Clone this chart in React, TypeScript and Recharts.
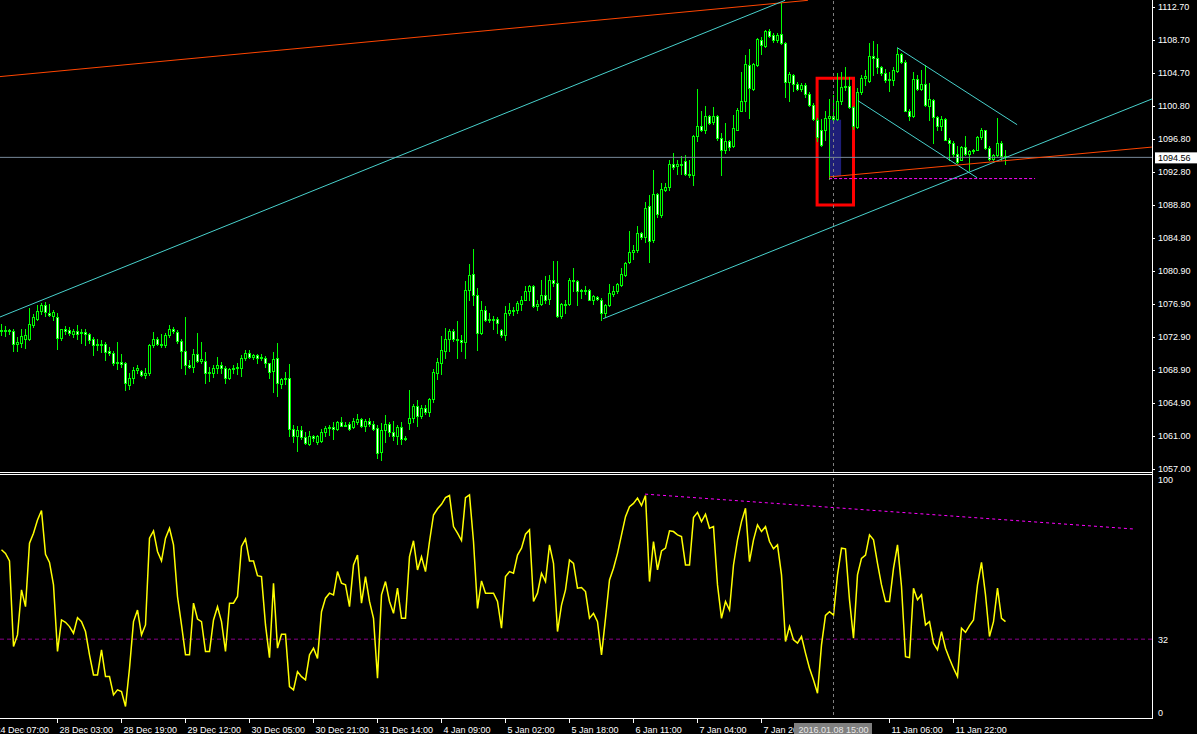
import React from 'react';
import {
    ComposedChart,
    Bar,
    Line,
    XAxis,
    YAxis,
    ReferenceLine,
    ReferenceArea,
} from 'recharts';

// hourly gold bars, left to right
const OPENS = [
    1073.7, 1073.6, 1073.7, 1073.6, 1072.1, 1072.2, 1072.6, 1072.6, 1074.4, 1075.1,
    1076.0, 1076.8, 1075.8, 1075.4, 1075.3, 1072.8, 1073.8, 1073.7, 1073.3, 1073.6,
    1073.4, 1073.5, 1073.2, 1072.7, 1072.0, 1072.1, 1072.1, 1071.2, 1071.0, 1069.7,
    1069.9, 1069.7, 1067.1, 1067.9, 1068.9, 1068.8, 1068.3, 1068.5, 1071.9, 1072.7,
    1072.1, 1071.9, 1073.1, 1073.8, 1073.5, 1072.4, 1071.2, 1069.5, 1069.3, 1070.8,
    1070.0, 1070.0, 1068.5, 1068.5, 1069.1, 1069.5, 1069.2, 1068.0, 1069.0, 1069.1,
    1069.1, 1070.4, 1071.0, 1070.5, 1070.7, 1070.4, 1070.4, 1069.7, 1068.8, 1070.3,
    1067.2, 1067.8, 1067.9, 1061.8, 1060.9, 1061.7, 1060.8, 1060.0, 1060.9, 1060.2,
    1060.3, 1061.4, 1061.9, 1062.0, 1061.8, 1062.6, 1062.3, 1062.4, 1062.0, 1062.6,
    1063.0, 1062.1, 1062.8, 1062.4, 1061.9, 1059.0, 1061.7, 1062.4, 1061.4, 1060.9,
    1062.0, 1060.7, 1062.5, 1063.1, 1064.6, 1063.4, 1064.3, 1063.8, 1065.4, 1068.6,
    1069.8, 1071.2, 1072.6, 1073.6, 1072.7, 1072.5, 1072.3, 1078.6, 1080.5, 1078.0,
    1073.4, 1076.2, 1075.1, 1074.9, 1075.1, 1073.7, 1073.1, 1075.8, 1076.2, 1076.1,
    1076.9, 1077.4, 1078.4, 1079.0, 1076.6, 1076.9, 1077.9, 1077.5, 1079.8, 1079.4,
    1075.4, 1076.9, 1076.9, 1079.8, 1079.7, 1078.5, 1078.6, 1078.6, 1077.4, 1077.7,
    1077.4, 1075.8, 1076.8, 1078.1, 1078.4, 1079.2, 1080.4, 1081.9, 1083.1, 1083.4,
    1085.4, 1084.9, 1088.7, 1084.6, 1090.2, 1087.6, 1090.6, 1091.0, 1093.8, 1093.5,
    1093.6, 1094.1, 1092.6, 1092.4, 1097.1, 1098.3, 1097.8, 1099.5, 1098.8, 1099.5,
    1096.9, 1095.4, 1096.5, 1095.9, 1097.9, 1100.2, 1101.3, 1105.7, 1102.8, 1105.7,
    1108.7, 1108.0, 1109.8, 1109.3, 1108.7, 1109.4, 1108.4, 1103.7, 1104.5, 1103.4,
    1102.8, 1103.3, 1102.2, 1100.9, 1099.1, 1097.8, 1097.8, 1099.3, 1099.5, 1099.2,
    1101.3, 1103.1, 1103.2, 1100.6, 1098.2, 1102.4, 1104.1, 1103.8, 1106.8, 1106.6,
    1105.5, 1104.7, 1103.9, 1103.9, 1105.0, 1107.0, 1106.1, 1100.2, 1099.5, 1104.0,
    1102.8, 1103.4, 1100.8, 1101.5, 1099.4, 1098.3, 1099.2, 1096.7, 1096.3, 1095.0,
    1094.3, 1095.8, 1095.0, 1095.3, 1095.5, 1097.0, 1097.8, 1095.7, 1094.4, 1094.8,
    1096.3, 1094.7,
];

const HIGHS = [
    1074.5, 1074.2, 1073.8, 1073.8, 1072.9, 1073.8, 1073.9, 1076.4, 1075.7, 1076.8,
    1077.0, 1077.1, 1076.9, 1076.2, 1075.8, 1073.9, 1074.2, 1074.1, 1073.8, 1074.3,
    1073.8, 1073.8, 1073.4, 1072.9, 1072.6, 1072.5, 1072.3, 1071.7, 1071.2, 1072.3,
    1070.9, 1069.9, 1068.5, 1069.3, 1069.5, 1068.9, 1069.1, 1072.0, 1073.5, 1072.9,
    1073.3, 1073.4, 1074.3, 1074.1, 1073.7, 1072.7, 1075.3, 1070.1, 1071.5, 1073.4,
    1072.3, 1071.1, 1069.3, 1069.5, 1070.5, 1069.9, 1069.4, 1069.2, 1069.5, 1069.7,
    1070.7, 1071.3, 1071.3, 1070.9, 1070.9, 1070.9, 1070.6, 1069.8, 1071.1, 1072.2,
    1068.0, 1068.7, 1069.6, 1062.3, 1062.1, 1062.2, 1061.4, 1061.6, 1061.1, 1061.1,
    1061.8, 1062.2, 1062.3, 1062.7, 1062.8, 1063.2, 1062.6, 1062.6, 1063.1, 1063.6,
    1063.1, 1063.0, 1063.1, 1062.8, 1062.3, 1062.5, 1063.5, 1062.7, 1062.8, 1062.3,
    1062.7, 1060.9, 1066.5, 1064.8, 1065.3, 1064.7, 1064.7, 1065.5, 1069.0, 1070.3,
    1073.0, 1074.0, 1073.8, 1073.9, 1074.8, 1073.1, 1079.6, 1081.7, 1083.5, 1078.8,
    1077.2, 1076.6, 1075.8, 1075.4, 1075.3, 1073.9, 1076.6, 1077.0, 1076.5, 1077.2,
    1077.8, 1079.0, 1079.2, 1079.2, 1077.4, 1079.8, 1080.3, 1080.4, 1082.1, 1082.0,
    1077.0, 1077.4, 1080.0, 1081.2, 1079.8, 1078.7, 1079.0, 1078.7, 1077.9, 1077.8,
    1077.6, 1076.9, 1079.3, 1079.0, 1079.4, 1081.2, 1081.9, 1085.7, 1084.0, 1086.3,
    1085.6, 1089.2, 1090.0, 1093.0, 1090.3, 1091.5, 1091.5, 1094.3, 1095.1, 1094.2,
    1094.7, 1094.8, 1094.2, 1097.3, 1102.8, 1100.2, 1100.8, 1099.7, 1100.6, 1099.7,
    1097.5, 1098.7, 1096.7, 1099.7, 1100.5, 1104.9, 1106.9, 1107.6, 1106.0, 1108.9,
    1109.1, 1109.9, 1110.0, 1109.5, 1109.5, 1113.2, 1108.5, 1104.8, 1104.6, 1103.6,
    1103.5, 1103.5, 1102.5, 1101.1, 1099.3, 1099.2, 1100.2, 1101.6, 1102.1, 1104.7,
    1104.8, 1105.5, 1104.3, 1100.8, 1102.9, 1104.5, 1105.1, 1108.4, 1108.6, 1108.2,
    1105.6, 1105.2, 1104.8, 1105.5, 1107.8, 1107.2, 1106.3, 1100.4, 1104.9, 1104.5,
    1105.1, 1105.7, 1103.5, 1101.6, 1099.5, 1099.5, 1099.3, 1096.9, 1096.5, 1095.9,
    1095.9, 1097.1, 1095.5, 1095.6, 1097.1, 1098.1, 1097.9, 1095.9, 1095.0, 1099.3,
    1096.5, 1095.4,
];

const LOWS = [
    1073.1, 1073.0, 1073.3, 1071.2, 1071.2, 1071.7, 1071.6, 1072.5, 1074.1, 1074.9,
    1075.7, 1075.4, 1075.4, 1075.0, 1071.5, 1072.5, 1073.3, 1073.1, 1072.9, 1072.7,
    1072.2, 1071.9, 1072.2, 1070.7, 1071.3, 1071.1, 1070.1, 1070.7, 1069.5, 1069.0,
    1069.3, 1066.5, 1066.6, 1067.3, 1068.6, 1068.2, 1068.0, 1068.3, 1071.7, 1071.9,
    1071.7, 1071.7, 1072.9, 1073.4, 1072.2, 1069.2, 1068.4, 1069.1, 1068.7, 1069.9,
    1069.7, 1067.4, 1067.6, 1068.1, 1068.5, 1068.6, 1067.4, 1067.8, 1068.5, 1068.4,
    1068.2, 1070.1, 1070.3, 1070.2, 1069.8, 1070.1, 1069.3, 1068.0, 1066.2, 1065.8,
    1066.8, 1067.2, 1060.9, 1060.2, 1059.2, 1060.6, 1060.0, 1059.9, 1060.3, 1060.0,
    1060.2, 1060.9, 1061.1, 1060.6, 1061.7, 1062.1, 1062.1, 1061.7, 1061.9, 1062.4,
    1062.0, 1061.5, 1062.2, 1061.7, 1058.3, 1058.1, 1060.2, 1060.9, 1060.5, 1060.0,
    1060.0, 1060.5, 1061.8, 1062.6, 1062.2, 1063.1, 1063.6, 1063.4, 1065.0, 1067.8,
    1068.4, 1070.4, 1071.2, 1072.4, 1070.3, 1071.2, 1070.4, 1077.3, 1076.7, 1071.3,
    1073.2, 1074.8, 1074.7, 1073.9, 1073.4, 1072.9, 1072.5, 1075.5, 1075.5, 1075.8,
    1076.2, 1077.3, 1077.4, 1076.5, 1076.2, 1076.8, 1077.0, 1076.9, 1079.0, 1075.3,
    1075.2, 1075.8, 1076.8, 1078.5, 1076.8, 1077.6, 1078.1, 1077.3, 1076.9, 1077.3,
    1075.0, 1075.3, 1076.6, 1077.8, 1078.2, 1079.0, 1080.2, 1081.8, 1082.3, 1083.2,
    1084.7, 1084.4, 1081.9, 1084.4, 1087.4, 1087.4, 1090.5, 1090.6, 1093.2, 1092.6,
    1092.6, 1092.4, 1092.2, 1091.2, 1096.5, 1097.7, 1097.5, 1098.6, 1098.6, 1096.7,
    1092.4, 1095.1, 1095.5, 1095.8, 1097.8, 1100.1, 1100.2, 1099.3, 1102.7, 1105.6,
    1107.0, 1107.9, 1109.1, 1108.5, 1108.5, 1108.2, 1101.8, 1101.3, 1102.6, 1102.7,
    1102.6, 1101.9, 1100.8, 1099.1, 1096.5, 1095.9, 1096.7, 1092.0, 1099.0, 1099.1,
    1101.0, 1102.7, 1100.5, 1098.0, 1098.1, 1102.2, 1103.3, 1103.7, 1104.5, 1104.7,
    1104.5, 1103.7, 1102.6, 1103.3, 1104.8, 1105.9, 1100.1, 1099.1, 1099.4, 1102.7,
    1102.7, 1100.7, 1099.1, 1096.3, 1097.9, 1097.9, 1096.6, 1094.3, 1094.7, 1093.9,
    1094.2, 1094.8, 1093.0, 1095.1, 1095.4, 1096.8, 1095.6, 1094.3, 1094.2, 1094.7,
    1094.2, 1093.8,
];

const CLOSES = [
    1073.7, 1073.7, 1073.6, 1072.1, 1072.3, 1073.0, 1073.1, 1074.5, 1075.3, 1076.0,
    1076.7, 1075.9, 1075.6, 1075.9, 1072.8, 1073.8, 1073.6, 1073.4, 1073.6, 1073.3,
    1073.5, 1073.2, 1072.5, 1071.9, 1072.1, 1071.9, 1071.1, 1071.0, 1069.7, 1069.9,
    1069.6, 1067.3, 1067.9, 1068.9, 1069.2, 1068.3, 1068.5, 1071.9, 1072.7, 1072.1,
    1071.9, 1073.1, 1073.8, 1073.6, 1072.4, 1071.2, 1069.5, 1069.3, 1070.8, 1070.0,
    1070.2, 1068.5, 1068.7, 1069.2, 1069.5, 1069.2, 1068.0, 1069.0, 1069.1, 1069.3,
    1070.4, 1071.0, 1070.5, 1070.7, 1070.4, 1070.5, 1069.7, 1068.7, 1070.2, 1067.3,
    1067.8, 1067.9, 1061.8, 1060.9, 1061.7, 1060.8, 1060.1, 1060.9, 1060.7, 1061.0,
    1061.4, 1061.9, 1062.0, 1061.8, 1062.6, 1062.2, 1062.3, 1061.8, 1062.8, 1063.0,
    1062.1, 1062.8, 1062.4, 1061.8, 1058.9, 1061.7, 1062.4, 1061.4, 1061.0, 1062.0,
    1060.6, 1060.7, 1063.1, 1064.6, 1063.4, 1064.3, 1063.8, 1065.4, 1068.7, 1069.9,
    1071.3, 1072.7, 1073.6, 1072.6, 1072.5, 1072.3, 1078.6, 1080.4, 1078.0, 1073.4,
    1076.2, 1075.0, 1074.9, 1075.1, 1074.6, 1073.1, 1075.8, 1076.2, 1076.1, 1077.0,
    1077.4, 1078.4, 1079.0, 1076.6, 1076.9, 1077.9, 1077.4, 1079.8, 1079.4, 1075.4,
    1076.9, 1076.8, 1079.8, 1079.6, 1078.5, 1078.6, 1078.5, 1077.4, 1077.8, 1077.5,
    1075.8, 1076.8, 1078.2, 1078.4, 1079.3, 1080.5, 1081.8, 1083.2, 1083.4, 1085.4,
    1085.0, 1088.5, 1084.5, 1090.2, 1087.7, 1090.7, 1091.0, 1093.8, 1093.4, 1093.8,
    1093.7, 1092.6, 1092.4, 1097.1, 1098.3, 1097.8, 1099.5, 1098.7, 1099.5, 1096.9,
    1095.5, 1096.5, 1095.8, 1098.1, 1100.3, 1101.4, 1105.8, 1102.9, 1105.8, 1108.8,
    1108.1, 1109.8, 1109.2, 1108.7, 1109.3, 1108.4, 1103.7, 1104.6, 1103.4, 1102.8,
    1103.3, 1102.2, 1100.9, 1099.2, 1097.0, 1096.1, 1099.3, 1099.5, 1099.2, 1101.4,
    1103.0, 1103.2, 1100.6, 1098.3, 1102.4, 1104.1, 1104.4, 1106.8, 1106.6, 1105.4,
    1104.7, 1103.9, 1104.0, 1105.1, 1107.0, 1106.1, 1100.2, 1099.5, 1104.0, 1102.8,
    1103.4, 1100.9, 1101.6, 1099.4, 1098.3, 1099.2, 1096.7, 1096.3, 1095.0, 1094.0,
    1095.8, 1095.0, 1095.3, 1095.5, 1097.0, 1097.8, 1095.7, 1094.4, 1094.8, 1096.3,
    1094.7, 1094.56,
];

// oscillator in the lower window (0..100)
const OSC = [
    69.7, 68.2, 65.0, 28.9, 33.8, 52.8, 45.7, 72.5, 76.7, 82.3,
    86.3, 67.8, 64.4, 54.9, 26.8, 40.1, 39.1, 37.3, 34.5, 41.1,
    39.4, 35.2, 25.4, 16.9, 16.9, 27.5, 16.2, 16.2, 8.5, 10.6,
    9.9, 3.6, 19.7, 39.4, 44.3, 33.8, 38.0, 74.6, 77.7, 69.0,
    65.0, 74.6, 78.8, 71.8, 50.0, 38.0, 25.4, 25.4, 47.2, 40.5,
    39.4, 26.8, 26.8, 40.1, 45.7, 39.4, 26.8, 47.2, 47.2, 50.0,
    71.1, 74.3, 65.0, 65.0, 58.8, 58.4, 38.0, 24.2, 55.6, 28.2,
    34.1, 34.1, 12.0, 10.6, 18.3, 16.2, 14.8, 25.4, 28.2, 23.9,
    43.6, 49.3, 51.4, 50.7, 60.5, 55.6, 54.9, 45.7, 63.3, 67.5,
    47.2, 58.4, 47.9, 40.8, 15.5, 50.7, 56.3, 47.9, 42.9, 53.5,
    40.8, 40.8, 66.8, 73.5, 61.2, 66.8, 60.5, 73.2, 84.4, 87.0,
    88.9, 91.7, 92.6, 79.5, 76.7, 73.6, 91.7, 92.9, 73.2, 45.0,
    56.6, 51.4, 51.4, 51.4, 47.9, 36.6, 58.4, 60.5, 59.8, 67.5,
    70.4, 76.3, 78.1, 47.9, 51.4, 59.8, 56.3, 71.8, 64.0, 35.2,
    46.4, 52.8, 65.4, 64.0, 53.5, 53.8, 52.1, 40.8, 42.9, 39.4,
    25.4, 40.8, 57.0, 61.9, 68.2, 76.0, 83.7, 87.9, 89.3, 91.5,
    88.4, 92.6, 56.3, 73.2, 61.2, 69.2, 70.4, 77.7, 77.4, 76.0,
    75.3, 63.3, 63.3, 83.3, 85.5, 81.6, 84.7, 78.8, 79.5, 54.9,
    40.8, 47.9, 44.3, 63.3, 73.9, 81.6, 87.2, 64.7, 73.9, 80.2,
    77.4, 79.5, 73.2, 70.1, 71.8, 59.1, 31.0, 37.3, 31.7, 30.3,
    33.1, 26.1, 19.7, 14.8, 9.2, 29.6, 42.0, 43.6, 42.2, 59.1,
    70.4, 70.1, 48.6, 32.4, 59.1, 66.1, 67.5, 76.0, 73.9, 64.0,
    54.9, 47.9, 47.9, 61.9, 71.8, 54.2, 24.6, 24.2, 53.5, 48.6,
    50.7, 38.0, 39.4, 30.3, 27.5, 35.2, 28.2, 23.7, 19.7, 16.2,
    36.6, 34.9, 37.7, 40.1, 54.9, 64.4, 50.7, 33.1, 39.4, 53.5,
    40.8, 39.4,
];

const PRICE_LEVELS = [
    1112.7, 1108.7, 1104.7, 1100.8, 1096.8, 1092.8, 1088.8, 1084.8,
    1080.9, 1076.9, 1072.9, 1068.9, 1064.9, 1061.0, 1057.0,
];
const LAST_PRICE = 1094.56;
const OSC_LEVELS = [0, 32, 100];
const OSC_SIGNAL = 32;

// bar index of each time label
const TIME_TICKS = [-2, 14, 30, 46, 62, 78, 94, 110, 126, 142, 158, 174, 190, 222, 238];
const TIME_LABELS = [
    '24 Dec 07:00', '28 Dec 03:00', '28 Dec 19:00', '29 Dec 12:00', '30 Dec 05:00',
    '30 Dec 21:00', '31 Dec 14:00', '4 Jan 09:00', '5 Jan 02:00', '5 Jan 18:00',
    '6 Jan 11:00', '7 Jan 04:00', '7 Jan 20:00', '11 Jan 06:00', '11 Jan 22:00',
];
const CURSOR_BAR = 208;
const CURSOR_LABEL = '2016.01.08 15:00';

// drawn objects, as (bar index, price)
const LONG_RESISTANCE = [{ x: -0.4, y: 1104.3 }, { x: 201.6, y: 1113.5 }];
const CHANNEL_TOP = [{ x: -0.4, y: 1075.3 }, { x: 195.9, y: 1113.5 }];
const CHANNEL_BOTTOM = [{ x: 150.4, y: 1075.1 }, { x: 287.6, y: 1101.6 }];
const SUPPORT = [{ x: 206.9, y: 1092.2 }, { x: 287.6, y: 1095.8 }];
const FLAT_LOW = [{ x: 206.9, y: 1092.0 }, { x: 258.4, y: 1092.0 }];
const DOWN_TOP = [{ x: 223.9, y: 1107.8 }, { x: 253.9, y: 1098.5 }];
const DOWN_BOTTOM = [{ x: 214.1, y: 1101.4 }, { x: 243.9, y: 1092.1 }];
const BLUE_BOX = { x1: 206.9, x2: 209.9, y1: 1092.3, y2: 1099.1 };
const RED_BOX = { x1: 203.9, x2: 213.0, y1: 1088.8, y2: 1104.1 };
const OSC_TREND = [{ x: 160.9, y: 93.2 }, { x: 282.9, y: 78.5 }];

const X_DOMAIN = [-0.375, 287.625];
const PRICE_DOMAIN = [1056.61, 1113.54];

const rows = CLOSES.map((c, i) => ({
    i,
    o: OPENS[i],
    h: HIGHS[i],
    l: LOWS[i],
    c,
    range: [LOWS[i], HIGHS[i]],
    osc: OSC[i],
}));

const FONT = '"Liberation Sans", Arial, sans-serif';
const LIME = '#00ff00';

function Candle(props: any) {
    const { x, y, width, height, payload } = props;
    if (!payload || height == null) return null;
    const top = Math.min(y, y + height);
    const h = Math.abs(height);
    const k = h / (payload.h - payload.l);
    const py = (p: number) => top + (payload.h - p) * k;
    const cx = Math.floor(x + width / 2) + 0.5;
    const bTop = Math.round(py(Math.max(payload.o, payload.c))) + 0.5;
    const bBot = Math.round(py(Math.min(payload.o, payload.c))) + 0.5;
    const bull = payload.c >= payload.o;
    return (
        <g>
            <line x1={cx} x2={cx} y1={Math.round(top)} y2={Math.round(top + h) + 1} stroke={LIME} shapeRendering="crispEdges" />
            <rect
                x={cx - 1}
                y={bTop}
                width={2}
                height={Math.max(bBot - bTop, 1)}
                fill={bull ? '#000' : '#fff'}
                stroke={LIME}
                shapeRendering="crispEdges"
            />
        </g>
    );
}

function PriceTick(props: any) {
    const { x, y, payload } = props;
    const v = payload.value;
    if (v === LAST_PRICE) {
        return (
            <g>
                <rect x={x + 3} y={y - 5} width={44} height={11} fill="#fff" />
                <text x={x + 6} y={y + 3.5} fill="#000" fontSize={9} fontFamily={FONT}>{v.toFixed(2)}</text>
            </g>
        );
    }
    return (
        <g>
            <line x1={x} x2={x + 3} y1={y + 0.5} y2={y + 0.5} stroke="#fff" shapeRendering="crispEdges" />
            <text x={x + 6} y={y + 3} fill="#fff" fontSize={9} fontFamily={FONT}>{v.toFixed(2)}</text>
        </g>
    );
}

function OscTick(props: any) {
    const { x, y, payload } = props;
    const v = payload.value;
    const shift = v === 100 ? 1.5 : v === 0 ? -3 : 0;
    return (
        <text x={x + 6} y={y + shift + 3.5} fill="#fff" fontSize={9} fontFamily={FONT}>{v}</text>
    );
}

function TimeTick(props: any) {
    const { x, y, payload } = props;
    const px = Math.floor(x) + 0.5;
    if (payload.value === CURSOR_BAR) {
        // crosshair time box, drawn last so it covers the label beneath it
        return (
            <g>
                <rect x={px - 39.5} y={y + 8} width={78} height={12} fill="#808080" />
                <text x={px} y={y + 17.5} fill="#e8e8e8" fontSize={9} fontFamily={FONT} textAnchor="middle">
                    {CURSOR_LABEL}
                </text>
            </g>
        );
    }
    const label = TIME_LABELS[TIME_TICKS.indexOf(payload.value)];
    return (
        <g>
            <line x1={px} x2={px} y1={y + 3} y2={y + 8} stroke="#fff" shapeRendering="crispEdges" />
            <text x={px + 2} y={y + 18} fill="#fff" fontSize={9} fontFamily={FONT}>{label}</text>
        </g>
    );
}

const hline = (top: number): React.CSSProperties => ({
    position: 'absolute', left: 0, top, width: 1153, height: 1, background: '#fff',
});

export default function App() {
    return (
        <div style={{ position: 'absolute', left: 0, top: 0, width: 1197, height: 734, background: '#000', overflow: 'hidden' }}>
            <div style={{ position: 'absolute', left: 0, top: 0 }}>
                <ComposedChart width={1197} height={472} data={rows} margin={{ top: 0, right: 0, bottom: 0, left: 0 }}>
                    <XAxis type="number" dataKey="i" domain={X_DOMAIN} allowDataOverflow hide />
                    <YAxis
                        orientation="right"
                        type="number"
                        domain={PRICE_DOMAIN}
                        allowDataOverflow
                        ticks={[...PRICE_LEVELS, LAST_PRICE]}
                        interval={0}
                        width={45}
                        axisLine={false}
                        tickLine={false}
                        tickSize={0}
                        tickMargin={0}
                        tick={PriceTick}
                    />
                    <ReferenceArea {...BLUE_BOX} fill="#1e1e78" fillOpacity={1} stroke="none" ifOverflow="hidden" />
                    <ReferenceLine y={LAST_PRICE} stroke="#778899" />
                    <Bar dataKey="range" shape={Candle} barSize={4} isAnimationActive={false} />
                    <ReferenceLine segment={LONG_RESISTANCE} stroke="#ff4500" ifOverflow="hidden" />
                    <ReferenceLine segment={CHANNEL_TOP} stroke="#48d1cc" ifOverflow="hidden" />
                    <ReferenceLine segment={CHANNEL_BOTTOM} stroke="#48d1cc" ifOverflow="hidden" />
                    <ReferenceLine segment={DOWN_TOP} stroke="#48d1cc" ifOverflow="hidden" />
                    <ReferenceLine segment={DOWN_BOTTOM} stroke="#48d1cc" ifOverflow="hidden" />
                    <ReferenceLine segment={SUPPORT} stroke="#ff4500" ifOverflow="hidden" />
                    <ReferenceLine segment={FLAT_LOW} stroke="#ff00ff" strokeDasharray="3 2" ifOverflow="hidden" />
                    <ReferenceArea {...RED_BOX} fill="none" stroke="#ff0000" strokeWidth={3} ifOverflow="hidden" />
                    <ReferenceLine x={CURSOR_BAR} stroke="#808080" strokeDasharray="3 3" />
                </ComposedChart>
            </div>
            <div style={{ position: 'absolute', left: 0, top: 474 }}>
                <ComposedChart width={1197} height={260} data={rows} margin={{ top: 4, right: 0, bottom: 0, left: 0 }}>
                    <XAxis
                        type="number"
                        dataKey="i"
                        domain={X_DOMAIN}
                        allowDataOverflow
                        ticks={[...TIME_TICKS, CURSOR_BAR]}
                        interval={0}
                        height={19}
                        axisLine={false}
                        tickLine={false}
                        tickSize={0}
                        tickMargin={0}
                        tick={TimeTick}
                    />
                    <YAxis
                        orientation="right"
                        type="number"
                        domain={[0, 100]}
                        allowDataOverflow
                        ticks={OSC_LEVELS}
                        interval={0}
                        width={45}
                        axisLine={false}
                        tickLine={false}
                        tickSize={0}
                        tickMargin={0}
                        tick={OscTick}
                    />
                    <ReferenceLine y={OSC_SIGNAL} stroke="#8b008b" strokeDasharray="4 3" />
                    <ReferenceLine segment={OSC_TREND} stroke="#ff00ff" strokeDasharray="3 3" ifOverflow="hidden" />
                    <Line type="linear" dataKey="osc" stroke="#ffff00" strokeWidth={1.5} dot={false} isAnimationActive={false} />
                    <ReferenceLine x={CURSOR_BAR} stroke="#808080" strokeDasharray="3 3" />
                </ComposedChart>
            </div>
            <div style={hline(472)} />
            <div style={hline(474)} />
            <div style={hline(718)} />
            <div style={{ position: 'absolute', left: 1152, top: 0, width: 1, height: 719, background: '#fff' }} />
        </div>
    );
}
